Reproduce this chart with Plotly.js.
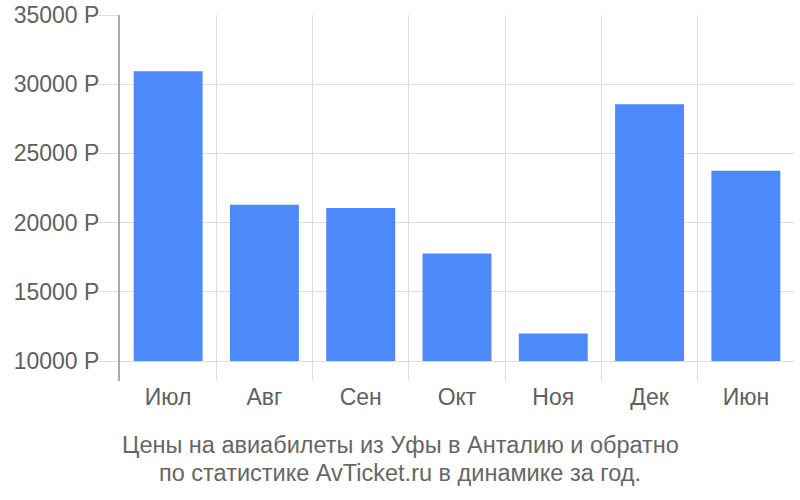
<!DOCTYPE html>
<html>
<head>
<meta charset="utf-8">
<script src="https://cdn.plot.ly/plotly-3.0.1.min.js"></script>
<style>html,body{margin:0;padding:0;background:#fff;}#chart{width:800px;height:500px;}</style>
</head>
<body>
<div id="chart"></div>
<script>
const months = ["Июл", "Авг", "Сен", "Окт", "Ноя", "Дек", "Июн"];
const prices = [30930, 21300, 21050, 17770, 12000, 28560, 23740];
const baseValue = 10000;
const tickValues = [10000, 15000, 20000, 25000, 30000, 35000];
const tickLabels = ["10000 Р", "15000 Р", "20000 Р", "25000 Р", "30000 Р", "35000 Р"];
const titleLines = ["Цены на авиабилеты из Уфы в Анталию и обратно", "по статистике AvTicket.ru в динамике за год."];

const trace = {
  type: "bar",
  x: months,
  y: prices.map(v => v - baseValue),
  base: baseValue,
  marker: {color: "#4d89f9", line: {width: 0}},
  hoverinfo: "skip"
};

const plotTop = 15, plotBottom = 381, plotLeft = 120, plotRight = 794;
const titleY = [445, 473];
const annotations = titleLines.map((t, i) => ({
  text: t,
  xref: "paper", yref: "paper",
  x: (400 - plotLeft) / (plotRight - plotLeft),
  y: (plotBottom - titleY[i]) / (plotBottom - plotTop),
  xanchor: "center", yanchor: "middle",
  showarrow: false,
  font: {size: 23.5, color: "#666", family: "Liberation Sans, Arial, sans-serif"}
}));

const layout = {
  width: 800, height: 500,
  margin: {l: plotLeft, r: 800 - plotRight, t: plotTop, b: 500 - plotBottom},
  paper_bgcolor: "#fff", plot_bgcolor: "#fff",
  font: {family: "Liberation Sans, Arial, sans-serif", color: "#606060"},
  bargap: 0.284,
  showlegend: false,
  annotations: annotations,
  xaxis: {
    type: "category",
    tickson: "boundaries",
    showgrid: true, gridcolor: "#dedede", gridwidth: 1,
    ticks: "", showline: false, zeroline: false,
    tickfont: {size: 23, color: "#606060"},
    ticklabelstandoff: 0
  },
  yaxis: {
    range: [8560, 35000],
    tickvals: tickValues, ticktext: tickLabels,
    showgrid: true, gridcolor: "#dedede", gridwidth: 1,
    ticks: "outside", ticklen: 20, tickcolor: "#dedede", tickwidth: 1,
    showline: true, linecolor: "#aaaaaa", linewidth: 2,
    zeroline: false,
    tickfont: {size: 23, color: "#606060"},
    ticklabelstandoff: -6
  }
};

Plotly.newPlot("chart", [trace], layout, {staticPlot: true, displayModeBar: false});
</script>
</body>
</html>
